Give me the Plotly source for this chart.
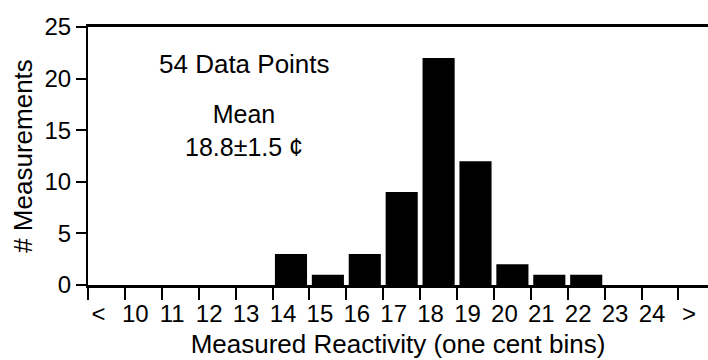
import plotly.graph_objects as go

categories = ["<", "10", "11", "12", "13", "14", "15", "16", "17", "18", "19", "20", "21", "22", "23", "24", ">"]
counts = [0, 0, 0, 0, 0, 3, 1, 3, 9, 22, 12, 2, 1, 1, 0, 0, 0]
y_ticks = [0, 5, 10, 15, 20, 25]

FONT = "Liberation Sans, Arial, Helvetica, sans-serif"

fig = go.Figure()
fig.add_trace(go.Bar(x=categories, y=counts, marker=dict(color="black", line=dict(width=0)),
                     showlegend=False))

fig.update_layout(
    width=708, height=360,
    margin=dict(l=88, r=0, t=27, b=75),
    paper_bgcolor="white", plot_bgcolor="white",
    bargap=0.13,
    font=dict(family=FONT, color="black", size=24),
    xaxis=dict(
        type="category",
        categoryorder="array", categoryarray=categories,
        range=[-0.5, 16.3],
        tickson="boundaries",
        ticks="outside", ticklen=12, tickwidth=2, tickcolor="black",
        showline=True, linecolor="black", linewidth=3, mirror=True,
        showgrid=False, zeroline=False,
        tickfont=dict(size=24),
        ticklabelshift=-8,
        ticklabelstandoff=5,
        title=dict(text="Measured Reactivity (one cent bins)", font=dict(size=26), standoff=10),
    ),
    yaxis=dict(
        range=[0, 25],
        tickvals=y_ticks,
        ticks="outside", ticklen=10, tickwidth=2, tickcolor="black",
        showline=True, linecolor="black", linewidth=2,
        showgrid=False, zeroline=False,
        tickfont=dict(size=24),
        title=dict(text="# Measurements", font=dict(size=26), standoff=4),
    ),
)

fig.add_annotation(text="54 Data Points", xref="paper", yref="paper", x=0.253, y=0.857,
                   showarrow=False, font=dict(size=26), xanchor="center", yanchor="middle")
fig.add_annotation(text="Mean<br>18.8±1.5 ¢", xref="paper", yref="paper", x=0.252, y=0.598,
                   showarrow=False, font=dict(size=25), xanchor="center", yanchor="middle",
                   align="center")

fig.write_html("out.html")
